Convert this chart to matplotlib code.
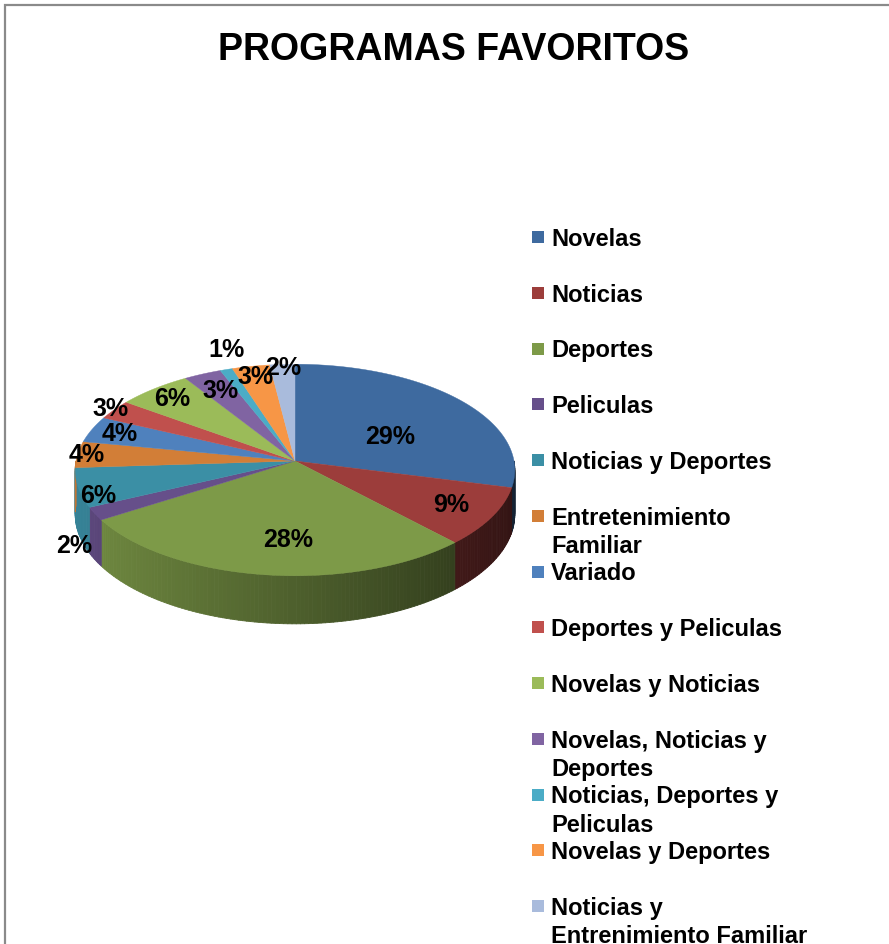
import numpy as np
import matplotlib
matplotlib.use("Agg")
import matplotlib.pyplot as plt
from matplotlib.patches import Polygon, Rectangle
from matplotlib.collections import PolyCollection
from matplotlib.colors import to_rgb

# ---- data ----
categories = ["Novelas", "Noticias", "Deportes", "Peliculas", "Noticias y Deportes",
              "Entretenimiento\nFamiliar", "Variado", "Deportes y Peliculas",
              "Novelas y Noticias", "Novelas, Noticias y\nDeportes",
              "Noticias, Deportes y\nPeliculas", "Novelas y Deportes",
              "Noticias y\nEntrenimiento Familiar"]
values = [29, 9, 28, 2, 6, 4, 4, 3, 6, 3, 1, 3, 2]
title = "PROGRAMAS FAVORITOS"

# ---- styles ----
colors = ["#3E6A9F", "#9C3D3B", "#7D9A48", "#664F8A", "#3B8FA5", "#D27E37",
          "#4F81BD", "#C0504D", "#9BBB59", "#8064A2", "#4BACC6", "#F79646", "#A9BBDC"]
label_r = [0.50, 0.80, 0.71, 1.10, 0.91, 0.96, 0.86, 1.02, 0.86, 0.79, 1.21, 0.88, 0.96]
label_dt = [-9.8, 0, 4.8, 0, 0, 0, 0, 0, 0, 0, -3.2, 0, 0]   # degrees
label_drop = [0, 0, 0, 0.6, 0.25, 0, 0, 0, 0, 0, 0, 0, 0]

W, H = 889, 944
fig = plt.figure(figsize=(W / 100, H / 100), dpi=100)
ax = fig.add_axes([0, 0, 1, 1])
ax.set_xlim(0, W)
ax.set_ylim(H, 0)
ax.axis("off")

FAM = "Liberation Sans"

# pie geometry (pixel space)
cx, cy = 295, 461
a, b = 219, 105
p = 0.085
d = 44


def proj(r, t):
    u, v = r * np.cos(t), r * np.sin(t)
    s = 1.0 / (1.0 + p * v)
    return cx + a * u * s, cy - b * v * s


def depth(r, t):
    v = r * np.sin(t)
    return d / (1.0 + p * v)


total = float(sum(values))
frac = np.array(values) / total
ends = np.pi / 2 - 2 * np.pi * np.cumsum(frac)
starts = np.concatenate([[np.pi / 2], ends[:-1]])

# side walls (front half only)
polys, pcols = [], []
for i in range(len(values)):
    t0, t1 = starts[i], ends[i]  # t0 > t1
    lo, hi = max(t1, -np.pi), min(t0, 0.0)
    if hi <= lo:
        continue
    n = max(2, int(np.degrees(hi - lo)) + 1)
    ts = np.linspace(hi, lo, n + 1)
    base = np.array(to_rgb(colors[i]))
    for k in range(n):
        ta, tb = ts[k], ts[k + 1]
        xa, ya = proj(1, ta)
        xb, yb = proj(1, tb)
        da, db = depth(1, ta), depth(1, tb)
        polys.append([(xa, ya), (xb, yb), (xb, yb + db), (xa, ya + da)])
        um = np.cos((ta + tb) / 2)
        f = np.clip(0.62 - 0.30 * um, 0.3, 0.95)
        pcols.append(tuple(base * f))
pc = PolyCollection(polys, facecolors=pcols, edgecolors=pcols, linewidths=0.6, zorder=1)
ax.add_collection(pc)

# top faces
for i in range(len(values)):
    ts = np.linspace(starts[i], ends[i], max(3, int(np.degrees(starts[i] - ends[i]) * 2)))
    pts = [(cx, cy)] + [proj(1, t) for t in ts]
    ax.add_patch(Polygon(pts, closed=True, facecolor=colors[i], edgecolor=colors[i],
                         linewidth=0.3, zorder=2))

# percentage labels
for i, v in enumerate(values):
    tm = (starts[i] + ends[i]) / 2 + np.radians(label_dt[i])
    x, y = proj(label_r[i], tm)
    y += label_drop[i] * d
    ax.text(x, y, f"{v / total * 100:.0f}%", ha="center", va="center",
            fontsize=18, fontweight="bold", family=FAM, color="black", zorder=5)

# title
ax.text(454, 50, title, ha="center", va="center", fontsize=27,
        fontweight="bold", family=FAM, color="black")

# legend
lx, ly0, step, lstep = 532, 237, 55.75, 28
for i, lab in enumerate(categories):
    y = ly0 + i * step
    ax.add_patch(Rectangle((lx, y - 6), 12, 12, facecolor=colors[i], edgecolor="none"))
    for j, line in enumerate(lab.split("\n")):
        ax.text(551, y + j * lstep, line, ha="left", va="center_baseline",
                fontsize=17, fontweight="bold", family=FAM, color="black")

# chart frame (cut off at right and bottom)
ax.plot([4.5, 4.5, W + 5], [H + 5, 4.5, 4.5], color="#8a8a8a", lw=1.6,
        clip_on=False, solid_joinstyle="miter")

fig.savefig("out.png", dpi=100)
